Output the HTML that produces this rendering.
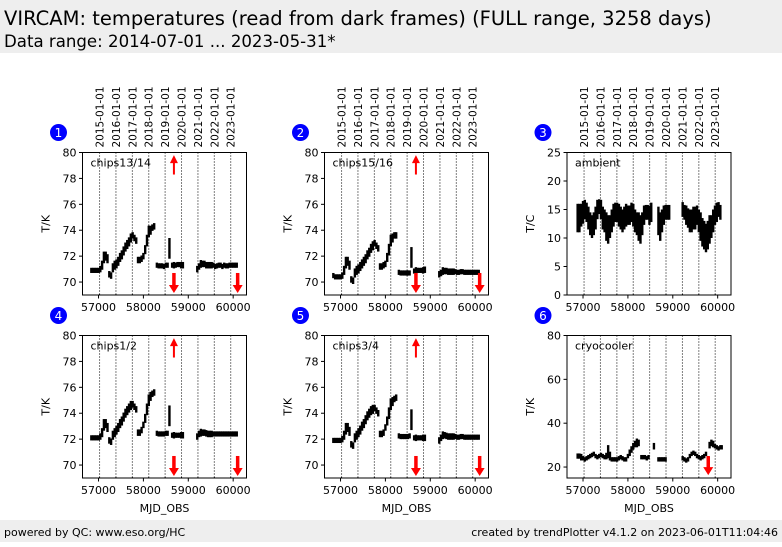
<!DOCTYPE html>
<html><head><meta charset="utf-8">
<style>
html,body{margin:0;padding:0;background:#fff;}
body{width:782px;height:542px;overflow:hidden;font-family:"Liberation Sans","DejaVu Sans",sans-serif;}
svg text{font-family:"DejaVu Sans","Liberation Sans",sans-serif;}
</style></head>
<body>
<svg id="chart" width="782" height="542" xmlns="http://www.w3.org/2000/svg">
<rect x="0" y="0" width="782" height="53" fill="#eeeeee"/>
<text x="4" y="25" font-size="19.5" fill="#000">VIRCAM: temperatures (read from dark frames) (FULL range, 3258 days)</text>
<text x="4" y="47" font-size="16.6" fill="#000">Data range: 2014-07-01 ... 2023-05-31*</text>
<rect x="0" y="520" width="782" height="22" fill="#eeeeee"/>
<text x="4" y="536" font-size="11" fill="#000">powered by QC: www.eso.org/HC</text>
<text x="778" y="536" font-size="11" fill="#000" text-anchor="end">created by trendPlotter v4.1.2 on 2023-06-01T11:04:46</text>
<g id="plots"></g>
</svg>
<script>
// ---- data ----
const yearLabels = ["2015-01-01","2016-01-01","2017-01-01","2018-01-01","2019-01-01","2020-01-01","2021-01-01","2022-01-01","2023-01-01"];
const yearMjd = [57023,57388,57754,58119,58484,58849,59215,59580,59945];
const xTicks = [57000,58000,59000,60000];

const mjdChips = [56840,56880,56920,56960,57000,57040,57080,57120,57160,57200,57240,57280,57320,57360,57400,57440,57480,57520,57560,57600,57640,57680,57720,57760,57800,57840,57880,57920,57960,58000,58040,58080,58120,58160,58200,58240,58300,58340,58380,58420,58460,58500,58540,58580,58640,58680,58720,58760,58800,58840,58880,59200,59240,59280,59320,59360,59400,59440,59480,59520,59560,59600,59640,59680,59720,59760,59800,59840,59880,59920,59960,60000,60040,60080];
const chipsSpread = [0.2,0.2,0.2,0.2,0.2,0.25,0.35,0.45,0.35,0.35,0.25,0.25,0.35,0.35,0.35,0.35,0.35,0.35,0.35,0.35,0.35,0.35,0.35,0.25,0.25,0.25,0.25,0.25,0.25,0.25,0.35,0.45,0.45,0.35,0.25,0.25,0.2,0.2,0.2,0.2,0.2,0.2,0.2,0.8,0.2,0.25,0.2,0.2,0.2,0.25,0.25,0.25,0.25,0.3,0.25,0.25,0.25,0.25,0.25,0.25,0.2,0.2,0.2,0.2,0.2,0.2,0.2,0.2,0.2,0.2,0.2,0.2,0.2,0.2];
const chips1314 = [70.9,70.9,70.9,70.9,70.9,71.0,71.3,71.9,72.0,71.8,70.6,70.5,71.1,71.3,71.4,71.6,71.9,72.1,72.4,72.7,72.9,73.1,73.4,73.6,73.4,73.2,71.7,71.7,71.8,72.0,72.5,73.2,73.9,74.0,74.2,74.3,71.3,71.25,71.25,71.25,71.2,71.3,71.3,72.6,71.3,71.3,71.3,71.35,71.35,71.3,71.3,71.0,71.2,71.4,71.4,71.4,71.3,71.3,71.3,71.3,71.3,71.2,71.25,71.3,71.3,71.2,71.3,71.25,71.25,71.3,71.3,71.3,71.3,71.3];
const chips1516 = [70.5,70.4,70.4,70.4,70.4,70.5,70.9,71.5,71.6,71.3,70.2,70.1,70.7,70.9,71.0,71.2,71.4,71.6,71.8,72.1,72.3,72.6,72.8,73.0,72.8,72.6,71.2,71.2,71.3,71.4,71.9,72.5,73.2,73.4,73.6,73.6,70.75,70.7,70.7,70.7,70.7,70.7,70.7,71.9,70.85,70.9,70.9,70.9,70.9,70.9,70.95,70.6,70.7,70.85,70.85,70.85,70.8,70.8,70.8,70.8,70.8,70.75,70.75,70.8,70.8,70.75,70.75,70.75,70.75,70.75,70.75,70.75,70.75,70.75];
const chips12 = [72.1,72.1,72.1,72.1,72.1,72.2,72.5,73.1,73.2,72.9,71.9,71.8,72.3,72.5,72.7,72.9,73.2,73.4,73.7,74.0,74.2,74.4,74.6,74.7,74.5,74.3,72.5,72.5,72.7,73.1,73.6,74.3,75.0,75.3,75.5,75.6,72.45,72.4,72.4,72.4,72.4,72.45,72.45,73.8,72.3,72.3,72.3,72.3,72.3,72.3,72.3,72.2,72.4,72.5,72.5,72.5,72.45,72.4,72.4,72.4,72.4,72.4,72.4,72.4,72.4,72.4,72.4,72.4,72.4,72.4,72.4,72.4,72.4,72.4];
const chips34 = [71.9,71.9,71.9,71.9,71.9,72.0,72.3,72.8,72.9,72.6,71.6,71.5,72.1,72.3,72.5,72.7,73.0,73.2,73.5,73.8,74.0,74.2,74.3,74.4,74.2,74.0,72.4,72.4,72.5,72.9,73.4,74.0,74.7,74.9,75.1,75.2,72.25,72.2,72.2,72.2,72.2,72.2,72.25,73.5,72.1,72.1,72.1,72.1,72.1,72.1,72.1,71.9,72.1,72.3,72.3,72.25,72.2,72.2,72.2,72.2,72.2,72.15,72.15,72.2,72.2,72.15,72.15,72.15,72.15,72.15,72.15,72.15,72.15,72.15];

const mjdAmb = [56880,56920,56960,57000,57040,57080,57120,57160,57200,57240,57280,57320,57360,57400,57440,57480,57520,57560,57600,57640,57680,57720,57760,57800,57840,57880,57920,57960,58000,58040,58080,58120,58160,58200,58240,58280,58320,58360,58400,58440,58480,58520,58680,58720,58760,58800,58840,58880,58920,59220,59260,59300,59340,59380,59420,59460,59500,59540,59580,59620,59660,59700,59740,59780,59820,59860,59900,59940,59980,60020,60060];
const ambient = [13.5,13.5,14,14.5,15,14.5,13.5,12.5,12,12.5,13.5,15,15.5,15,13.5,13,12,11.5,12,13,14,14.5,14.5,14,13.5,13,13.5,14,14,14,14.5,14,13,12.5,12,11.5,12.5,14,14.5,14.5,14,14.5,13,12,13,14,14.5,14.5,14.5,15,14.5,14,13.5,13,13,13.5,13.5,14,13,12,11,10.5,10,10.5,11.5,12,13,14,14.5,15,14.5];
const ambSpread = [2.5,2.5,2,2,1.7,1.7,2,2,2,2,2,1.7,1.3,1.7,2,2,2.5,2.5,2,2,2,1.7,1.7,2,2,2,2,2,1.7,1.7,1.7,2,2,2,2.5,2.5,2,1.7,1.3,1.3,1.7,1.7,2.5,2.5,2,1.7,1.3,1.3,1.3,1.3,1.3,1.7,1.7,2,2,2,2,1.7,2,2.5,2.5,2.5,2.5,2.5,2.5,2,2,1.7,1.7,1.3,1.3];

const mjdCryo = [56880,56920,56960,57000,57040,57080,57120,57160,57200,57240,57280,57320,57360,57400,57440,57480,57520,57560,57600,57640,57680,57720,57760,57800,57840,57880,57920,57960,58000,58040,58080,58120,58160,58200,58240,58300,58340,58380,58420,58460,58580,58680,58720,58760,58800,58840,59220,59260,59300,59340,59380,59420,59460,59500,59540,59580,59620,59660,59700,59740,59780,59820,59860,59900,59940,59980,60020,60060,60090];
const cryo = [25,25,24.5,24,23.5,24,24.5,25,25.5,26,25,24.5,25,25.5,25,24.5,25,27,25,23.5,23.5,23.5,23.5,24,24.5,24,23.5,23.5,25,26.5,28,29.5,30.5,31,31,24.5,24.5,24.5,24,24.5,29.5,23.5,23.5,23.5,23.5,23.5,24,23.5,23,23.5,25,26,26.5,26,25,24.5,24,24.5,25,26,24,30,31,30.5,29.5,29,28.5,29,29];
const cryoSpread = [1.2,1.2,1.5,1,1,1,1,1,1,1,1,1,1,1,1,1,1.5,3,2,1,1,1,1,1,1,1,1,1,1,1.5,1.5,1.5,1.5,2,1.5,1,1,1,1,1,1.5,1,1,1,1,1,1,1,1,1,1,1,1,1,1,1,1,1,1,1,1,1.5,1.5,1.5,1,1,1,1,1];

// arrows: [mjd, from, to]
const arrowsChips = [[58680,78.3,79.8],[58680,70.7,69.15],[60100,70.7,69.15]];
const arrowsCryo = [[59790,25,16.3]];

// ---- drawing ----
const NS="http://www.w3.org/2000/svg";
const plots=document.getElementById('plots');
function mk(tag,attrs,parent){const e=document.createElementNS(NS,tag);for(const k in attrs)e.setAttribute(k,attrs[k]);(parent||plots).appendChild(e);return e;}
const X0=56643,X1=60297,W=164;

const panels=[
 {n:1,x:82.5,y:152.5,h:142.5,lab:"chips13/14",yl:"T/K",ymin:69,ymax:80,yt:[70,72,74,76,78,80],mjd:mjdChips,v:chips1314,s:chipsSpread,arr:arrowsChips,top:true},
 {n:2,x:324.5,y:152.5,h:142.5,lab:"chips15/16",yl:"T/K",ymin:69,ymax:80,yt:[70,72,74,76,78,80],mjd:mjdChips,v:chips1516,s:chipsSpread,arr:arrowsChips,top:true},
 {n:3,x:567,y:152.5,h:142.5,lab:"ambient",yl:"T/C",ymin:0,ymax:25,yt:[0,5,10,15,20,25],mjd:mjdAmb,v:ambient,s:ambSpread,arr:[],top:true},
 {n:4,x:82.5,y:335.5,h:142.5,lab:"chips1/2",yl:"T/K",ymin:69,ymax:80,yt:[70,72,74,76,78,80],mjd:mjdChips,v:chips12,s:chipsSpread,arr:arrowsChips,top:false},
 {n:5,x:324.5,y:335.5,h:142.5,lab:"chips3/4",yl:"T/K",ymin:69,ymax:80,yt:[70,72,74,76,78,80],mjd:mjdChips,v:chips34,s:chipsSpread,arr:arrowsChips,top:false},
 {n:6,x:567,y:335.5,h:142.5,lab:"cryocooler",yl:"T/K",ymin:15,ymax:80,yt:[20,40,60,80],mjd:mjdCryo,v:cryo,s:cryoSpread,arr:arrowsCryo,top:false}
];

panels.forEach(p=>{
 const g=mk('g',{});
 
 
 const sx=m=>p.x+(m-X0)/(X1-X0)*W;
 const sy=v=>p.y+p.h-(v-p.ymin)/(p.ymax-p.ymin)*p.h;
 yearMjd.forEach((m,i)=>{
  const l=mk('line',{x1:sx(m),x2:sx(m),y1:p.y,y2:p.y+p.h,stroke:'#000','stroke-width':1,'stroke-dasharray':'1,2'},g);
  
  
  if(p.top){
   const t=mk('text',{x:0,y:0,'font-size':10.5,transform:`translate(${sx(m)+4},${p.y-5}) rotate(-90)`},g);
   
   
   t.textContent=yearLabels[i];
  }
 });
 p.mjd.forEach((m,i)=>{
  const lo=sy(p.v[i]-p.s[i]),hi=sy(p.v[i]+p.s[i]);
  const r=mk('rect',{x:sx(m)-1.2,y:hi,width:2.4,height:Math.max(1.2,lo-hi),fill:'#000'},g);
  
  
 });
 p.arr.forEach(a=>{
  const x=sx(a[0]),y1=sy(a[1]),y2=sy(a[2]);
  const dir=y2<y1?1:-1;
  const down=dir<0;
  const ln=mk('line',{x1:x,x2:x,y1:y1,y2:y2+dir*6,stroke:'#ff0000','stroke-width':down?3.5:2},g);
  
  
  const hw=down?5:4;
  const hd=mk('polygon',{points:`${x-hw},${y2+dir*8} ${x+hw},${y2+dir*8} ${x},${y2}`,fill:'#ff0000'},g);
  
  
 });
 const fr=mk('rect',{x:p.x,y:p.y,width:W,height:p.h,fill:'none',stroke:'#000','stroke-width':1},g);
 
 
 p.yt.forEach(v=>{
  mk('line',{x1:p.x-3.5,x2:p.x,y1:sy(v),y2:sy(v),stroke:'#000'},g);
  const t=mk('text',{x:p.x-6,y:sy(v)+4,'font-size':11,'text-anchor':'end'},g);
  
  
  t.textContent=v;
 });
 xTicks.forEach(m=>{
  mk('line',{x1:sx(m),x2:sx(m),y1:p.y+p.h,y2:p.y+p.h+3.5,stroke:'#000'},g);
  const t=mk('text',{x:sx(m),y:p.y+p.h+16,'font-size':11,'text-anchor':'middle'},g);
  
  
  t.textContent=m;
 });
 const yl=mk('text',{x:0,y:0,'font-size':11,'text-anchor':'middle',transform:`translate(${p.x-33},${p.y+p.h/2}) rotate(-90)`},g);
 
 
 yl.textContent=p.yl;
 const pl=mk('text',{x:p.x+8,y:p.y+14,'font-size':11},g);
 
 
 pl.textContent=p.lab;
 if(!p.top){
  const xl=mk('text',{x:p.x+W/2,y:p.y+p.h+34,'font-size':11,'text-anchor':'middle'},g);
  
  
  xl.textContent='MJD_OBS';
 }
 const bx=p.x-24,by=p.y-20;
 const c=mk('circle',{cx:bx,cy:by,r:8.5,fill:'#0000ff'},g);
 
 
 const bt=mk('text',{x:bx,y:by+4.5,'font-size':12,'text-anchor':'middle',fill:'#fff'},g);
 
 
 bt.textContent=p.n;
});
</script>
</body></html>
